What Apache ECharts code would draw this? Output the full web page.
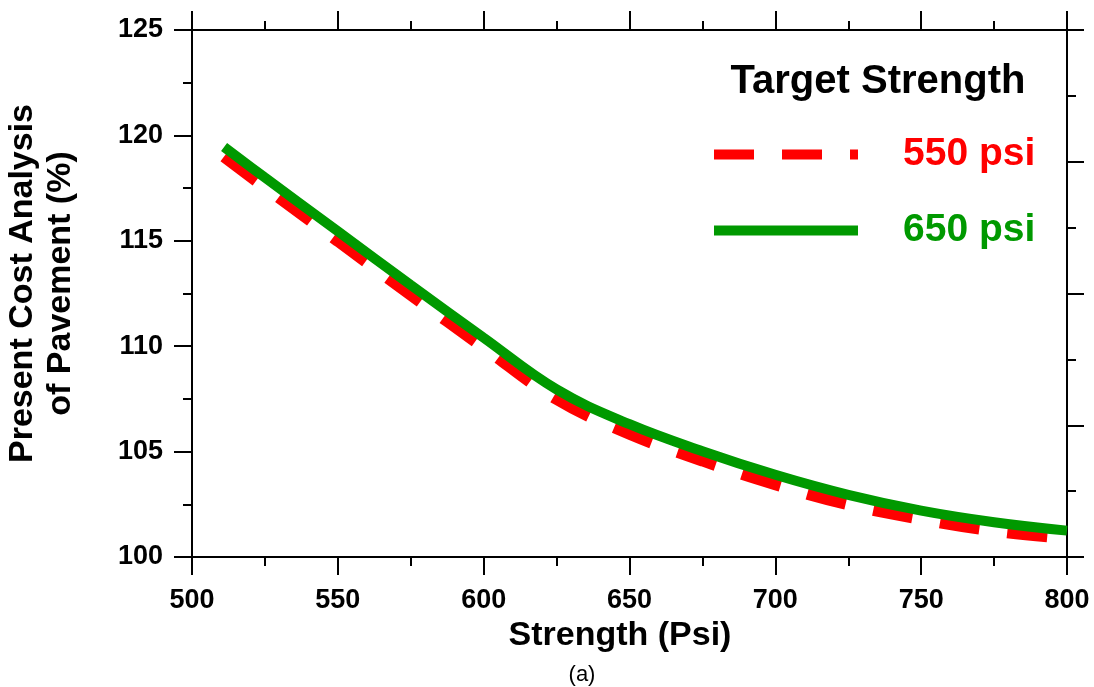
<!DOCTYPE html>
<html>
<head>
<meta charset="utf-8">
<script src="https://cdn.jsdelivr.net/npm/echarts@6/dist/echarts.min.js"></script>
<style>
html,body{margin:0;padding:0;background:#fff;}
#chart{width:1094px;height:687px;}
</style>
</head>
<body>
<div id="chart"></div>
<script>
const strength = [511, 525, 550, 575, 600, 625, 650, 675, 700, 725, 750, 775, 800];
const psi550 = [119.0, 117.55, 115.0, 112.45, 109.95, 107.5, 105.85, 104.58, 103.45, 102.5, 101.8, 101.25, 100.9];
const psi650 = [119.45, 118.0, 115.45, 112.9, 110.4, 107.95, 106.3, 105.02, 103.9, 102.95, 102.2, 101.65, 101.25];
const seriesNames = ['550 psi', '650 psi'];
const xTitle = 'Strength (Psi)';
const yTitle = 'Present Cost Analysis\nof Pavement (%)';
const legendTitle = 'Target Strength';
const caption = '(a)';

const FONT = '"Liberation Sans", Arial, Helvetica, sans-serif';
const chart = echarts.init(document.getElementById('chart'), null, {renderer: 'canvas'});

const axisLine = {show: true, onZero: false, lineStyle: {color: '#000', width: 2}};
function pair(a, b) { return a.map((v, i) => [v, b[i]]); }

chart.setOption({
  animation: false,
  backgroundColor: '#fff',
  grid: {left: 192, right: 27, top: 30, bottom: 130, containLabel: false, outerBoundsMode: 'none'},
  xAxis: [{
    type: 'value', min: 500, max: 800, interval: 50, position: 'bottom',
    axisLine: axisLine,
    axisTick: {show: true, inside: false, length: 18, lineStyle: {color: '#000', width: 2}},
    minorTick: {show: true, splitNumber: 2, length: 9, lineStyle: {color: '#000', width: 2}},
    splitLine: {show: false}, minorSplitLine: {show: false},
    axisLabel: {color: '#000', fontSize: 27, fontWeight: 'bold', fontFamily: FONT, margin: 30},
    name: xTitle, nameLocation: 'middle', nameGap: 57,
    nameTextStyle: {color: '#000', fontSize: 34, fontWeight: 'bold', fontFamily: FONT, padding: [0, 19, 0, 0]}
  }, {
    type: 'value', min: 500, max: 800, interval: 50, position: 'top',
    axisLine: axisLine,
    axisTick: {show: true, inside: false, length: 19, lineStyle: {color: '#000', width: 2}},
    minorTick: {show: true, splitNumber: 2, length: 9, lineStyle: {color: '#000', width: 2}},
    splitLine: {show: false}, axisLabel: {show: false}
  }],
  yAxis: [{
    type: 'value', min: 100, max: 125, interval: 5, position: 'left',
    axisLine: axisLine,
    axisTick: {show: true, inside: false, length: 18, lineStyle: {color: '#000', width: 2}},
    minorTick: {show: true, splitNumber: 2, length: 9, lineStyle: {color: '#000', width: 2}},
    splitLine: {show: false}, minorSplitLine: {show: false},
    axisLabel: {color: '#000', fontSize: 27, fontWeight: 'bold', fontFamily: FONT, margin: 29},
    name: yTitle, nameLocation: 'middle', nameGap: 112, nameRotate: 90,
    nameTextStyle: {color: '#000', fontSize: 34, fontWeight: 'bold', fontFamily: FONT, lineHeight: 38, align: 'center', padding: [0, 0, 0, 20]}
  }, {
    type: 'value', min: 0, max: 8, interval: 2, position: 'right',
    axisLine: axisLine,
    axisTick: {show: true, inside: false, length: 17, lineStyle: {color: '#000', width: 2}},
    minorTick: {show: true, splitNumber: 2, length: 9, lineStyle: {color: '#000', width: 2}},
    splitLine: {show: false}, axisLabel: {show: false}
  }],
  legend: {
    orient: 'vertical', left: 709, top: 135, padding: 0,
    itemWidth: 144, itemHeight: 40, itemGap: 37,
    lineStyle: {width: 10},
    itemStyle: {opacity: 0},
    textStyle: {fontSize: 39, fontWeight: 'bold', fontFamily: FONT, padding: [0, 0, 0, 40]},
    data: [
      {name: seriesNames[0], textStyle: {color: '#ff0000'}},
      {name: seriesNames[1], textStyle: {color: '#009900'}}
    ]
  },
  graphic: [
    {type: 'text', x: 878, y: 82, style: {text: legendTitle, fill: '#000', font: 'bold 40px ' + FONT, textAlign: 'center', textVerticalAlign: 'middle'}},
    {type: 'text', x: 582, y: 675, style: {text: caption, fill: '#000', font: '22px ' + FONT, textAlign: 'center', textVerticalAlign: 'middle'}}
  ],
  series: [{
    name: seriesNames[0], type: 'line', xAxisIndex: 0, yAxisIndex: 0,
    data: pair(strength, psi550), symbol: 'none', smooth: 0.4,
    lineStyle: {color: '#ff0000', width: 12, type: [40, 28], cap: 'butt'},
    itemStyle: {color: '#ff0000'}, z: 2
  }, {
    name: seriesNames[1], type: 'line', xAxisIndex: 0, yAxisIndex: 0,
    data: pair(strength, psi650), symbol: 'none', smooth: 0.4,
    lineStyle: {color: '#009900', width: 10, type: 'solid', cap: 'butt'},
    itemStyle: {color: '#009900'}, z: 3
  }]
});
</script>
</body>
</html>
